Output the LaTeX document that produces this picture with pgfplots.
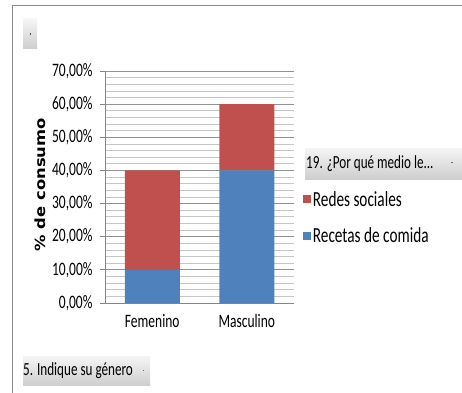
\documentclass[border=0pt]{standalone}
\usepackage{pgfplots}
\pgfplotsset{compat=1.18}
\usepackage{fontspec}
\setmainfont{Carlito}[FakeStretch=0.71]
\newfontfamily\labfont{DejaVu Sans}[FakeStretch=1.17]
\definecolor{xblue}{HTML}{4F81BD}
\definecolor{xred}{HTML}{C0504D}
\definecolor{framec}{HTML}{8C8C8C}
\definecolor{axc}{HTML}{868686}
\begin{document}
\begin{tikzpicture}[x=1pt,y=1pt]
\useasboundingbox (0,0) rectangle (462,392);
\fill[white] (0,0) rectangle (462,392);
\draw[framec, line width=1.2pt] (12.5,-5) -- (12.5,386.5) -- (470,386.5);
% top-left button
\shade[top color=gray!8, bottom color=gray!38] (23,344) rectangle (37,373);
\fill[black!70] (29.5,357.5) rectangle (30.8,358.8);
% legend field button
\shade[top color=gray!8, bottom color=gray!38] (305,213) rectangle (462,244);
\node[anchor=west, inner sep=0pt] at (306,228.5) {\fontsize{18.5}{20}\selectfont 19. ¿Por qué medio le...};
\fill[black!60] (451,229) rectangle (452.6,229.8);
% bottom field button
\shade[top color=gray!8, bottom color=gray!38] (23,7) rectangle (150,36);
\node[anchor=west, inner sep=0pt] at (23,21.5) {\fontsize{18.5}{20}\selectfont 5. Indique su género};
\fill[black!60] (142.5,21.5) rectangle (144.1,22.3);
\begin{axis}[
  at={(105pt,89pt)}, anchor=south west,
  scale only axis, width=189pt, height=232pt,
  xmin=-0.5, xmax=1.5, ymin=0, ymax=70,
  ybar stacked, bar width=55pt,
  xtick={0,1}, xticklabels={Femenino,Masculino},
  xtick style={draw=none},
  ytick={0,10,...,70},
  yticklabels={0{,}00\%,10{,}00\%,20{,}00\%,30{,}00\%,40{,}00\%,50{,}00\%,60{,}00\%,70{,}00\%},
  minor y tick num=4,
  ymajorgrids, yminorgrids,
  major grid style={axc!90, line width=0.9pt},
  minor grid style={gray!45, line width=0.7pt},
  axis x line*=bottom, axis y line*=left,
  axis line style={-, axc, line width=0.9pt},
  ytick align=outside, major tick length=5pt, minor tick length=0pt,
  ytick style={axc, line width=0.9pt},
  tick label style={font=\fontsize{19}{21}\selectfont, text=black},
  yticklabel style={xshift=-4pt},
  xticklabel style={yshift=-8pt},
  ylabel={\labfont\bfseries\fontsize{14}{16}\selectfont \% de consumo},
  ylabel style={at={(axis description cs:-0.344,0.51)}, anchor=center},
  reverse legend,
  legend style={at={(1.03,0.50)}, anchor=north west, draw=none, fill=none,
    font=\fontsize{21.5}{23}\selectfont, row sep=16pt, cells={anchor=west}},
  legend image code/.code={\fill[#1] (0pt,-4pt) rectangle (8pt,4pt);},
]
\addplot[fill=xblue, draw=none] coordinates {(0,10) (1,40)};
\addplot[fill=xred, draw=none] coordinates {(0,30) (1,20)};
\legend{Recetas de comida, Redes sociales}
\end{axis}
\end{tikzpicture}
\end{document}
